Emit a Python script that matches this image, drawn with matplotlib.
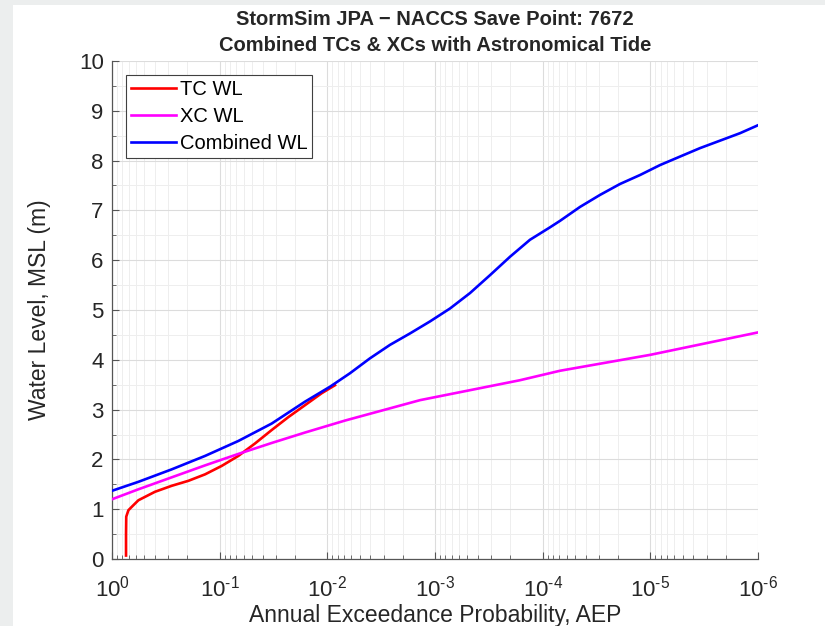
import matplotlib
matplotlib.use("Agg")
import numpy as np
import matplotlib.pyplot as plt
from matplotlib.patches import Rectangle
from matplotlib.ticker import MultipleLocator, FixedLocator, LogLocator, NullFormatter, FuncFormatter

plt.rcParams["font.family"] = ["Liberation Sans", "DejaVu Sans"]
plt.rcParams["mathtext.default"] = "regular"

# values, AEP given as log10(AEP)
tc_logaep = [-0.130, -0.130, -0.132, -0.152, -0.198, -0.245, -0.399, -0.554,
             -0.709, -0.864, -1.019, -1.173, -1.328, -1.483, -1.638, -1.793,
             -1.948, -2.071]
tc_wl = [0.07, 0.50, 0.85, 0.98, 1.08, 1.18, 1.35, 1.47, 1.57, 1.70, 1.87,
         2.07, 2.32, 2.59, 2.85, 3.09, 3.33, 3.49]

xc_logaep = [0.0, -0.245, -0.554, -0.864, -1.173, -1.483, -1.793, -2.164,
             -2.861, -3.789, -4.161, -5.0, -6.0]
xc_wl = [1.20, 1.40, 1.64, 1.88, 2.11, 2.33, 2.54, 2.78, 3.19, 3.59, 3.78,
         4.10, 4.55]

comb_logaep = [0.0, -0.245, -0.554, -0.864, -1.173, -1.483, -1.793, -2.025,
               -2.210, -2.396, -2.582, -2.768, -2.953, -3.139, -3.325, -3.511,
               -3.697, -3.882, -4.068, -4.161, -4.347, -4.532, -4.718, -4.904,
               -5.090, -5.275, -5.461, -5.647, -5.833, -6.0]
comb_wl = [1.37, 1.55, 1.80, 2.07, 2.37, 2.72, 3.16, 3.46, 3.73, 4.03, 4.30,
           4.53, 4.77, 5.03, 5.34, 5.70, 6.07, 6.41, 6.66, 6.79, 7.07, 7.31,
           7.53, 7.71, 7.91, 8.08, 8.25, 8.40, 8.55, 8.71]

xticks = [1, 1e-1, 1e-2, 1e-3, 1e-4, 1e-5, 1e-6]

fig = plt.figure(figsize=(8.25, 6.26), dpi=100, facecolor="#eceeee")
bg = Rectangle((13 / 825, 0), 1, 1 - 5 / 626, transform=fig.transFigure,
               facecolor="white", edgecolor="none", zorder=-10)
fig.patches.append(bg)
ax = fig.add_axes([0.1358, 0.107, 0.783, 0.7956])
ax.set_zorder(1)
ax.set_facecolor("white")

ax.plot(np.power(10.0, tc_logaep), tc_wl, color="#ff0000", lw=1.9,
        label="TC WL", zorder=3, solid_joinstyle="round")
ax.plot(np.power(10.0, xc_logaep), xc_wl, color="#ff00ff", lw=1.9,
        label="XC WL", zorder=3, solid_joinstyle="round")
ax.plot(np.power(10.0, comb_logaep), comb_wl, color="#0000ff", lw=1.9,
        label="Combined WL", zorder=4, solid_joinstyle="round")

ax.set_xscale("log")
ax.set_xlim(1, 1e-6)
ax.set_ylim(0, 10)
ax.xaxis.set_major_locator(FixedLocator(xticks))
ax.xaxis.set_major_formatter(FuncFormatter(
    lambda v, p: "$10^{%s}$" % ("\u2010%d" % round(-np.log10(v)) if v < 1 else "0")))
ax.xaxis.set_minor_locator(LogLocator(base=10, subs=range(2, 10), numticks=100))
ax.xaxis.set_minor_formatter(NullFormatter())
ax.yaxis.set_major_locator(MultipleLocator(1))
ax.yaxis.set_minor_locator(MultipleLocator(0.5))

ax.grid(which="major", color="#dcdcdc", lw=0.8, zorder=0)
ax.grid(which="minor", color="#eeeeee", lw=0.7, zorder=0)
ax.set_axisbelow(True)

for s in ["top", "right"]:
    ax.spines[s].set_visible(False)
for s in ["left", "bottom"]:
    ax.spines[s].set_color("#555555")
    ax.spines[s].set_linewidth(0.9)
ax.tick_params(which="both", direction="in", colors="#555555", labelcolor="#262626")
ax.tick_params(which="major", length=5, labelsize=16)
ax.tick_params(axis="x", which="major", pad=12)
ax.tick_params(axis="y", which="major", pad=6)
ax.tick_params(which="minor", length=3)

ax.set_xlabel("Annual Exceedance Probability, AEP", fontsize=16.5, color="#262626", labelpad=2)
ax.set_ylabel("Water Level, MSL (m)", fontsize=16.5, color="#262626", labelpad=20)
ax.set_title("StormSim JPA \u2212 NACCS Save Point: 7672\nCombined TCs & XCs with Astronomical Tide",
             fontsize=14.5, fontweight="bold", color="#262626", pad=7, linespacing=1.5)

leg = ax.legend(loc="upper left", bbox_to_anchor=(0.022, 0.972), fontsize=14.5,
                fancybox=False, edgecolor="#404040", framealpha=1,
                handlelength=2.2, handletextpad=0.2, labelspacing=0.4,
                borderpad=0.25, borderaxespad=0)
leg.get_frame().set_linewidth(0.8)

fig.savefig("out.png", dpi=100, facecolor=fig.get_facecolor())
